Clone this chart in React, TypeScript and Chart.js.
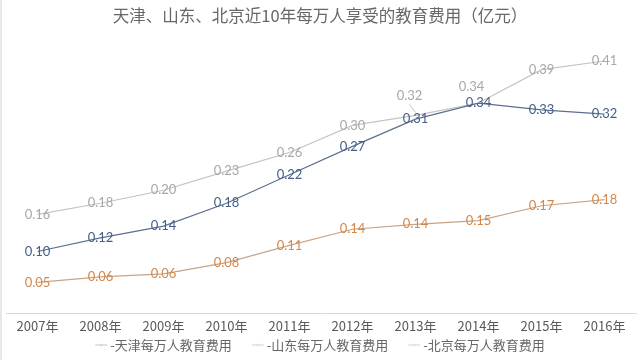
import React, { useEffect, useRef } from "react";
import { Chart, registerables } from "chart.js";

Chart.register(...registerables);

const TITLE = "天津、山东、北京近10年每万人享受的教育费用（亿元）";
const years = ["2007年", "2008年", "2009年", "2010年", "2011年", "2012年", "2013年", "2014年", "2015年", "2016年"];
const tianjin = [0.1, 0.122, 0.141, 0.178, 0.224, 0.27, 0.314, 0.34, 0.329, 0.322];
const shandong = [0.05, 0.059, 0.064, 0.082, 0.11, 0.136, 0.144, 0.15, 0.174, 0.184];
const beijing = [0.16, 0.178, 0.199, 0.23, 0.26, 0.304, 0.32, 0.34, 0.394, 0.408];
const seriesNames = ["-天津每万人教育费用", "-山东每万人教育费用", "-北京每万人教育费用"];

const FONT = "Lato, 'Noto Sans CJK SC', sans-serif";
const CJK = "'Noto Sans CJK SC', sans-serif";

const lineColors = ["#5b6f92", "#c8a487", "#c4c4c4"];
const textColors = ["#465f86", "#d4874a", "#a8a8a8"];
const legendColors = ["#d3d9e3", "#eadfd4", "#e2e2e2"];

// per-dataset label offsets (dx, dy) for crowded points
const labelOffsets: Record<number, Record<number, [number, number]>> = {
  2: { 6: [-6, -20], 7: [-7, -16] },
};

const labelPlugin = {
  id: "valueLabels",
  afterDatasetsDraw(chart: any) {
    const ctx = chart.ctx;
    ctx.save();
    ctx.font = `13px ${FONT}`;
    ctx.textAlign = "center";
    ctx.textBaseline = "middle";
    const order = [1, 2, 0];
    for (const di of order) {
      const meta = chart.getDatasetMeta(di);
      const ds = chart.data.datasets[di];
      meta.data.forEach((pt: any, i: number) => {
        const v = ds.data[i] as number;
        const off = (labelOffsets[di] && labelOffsets[di][i]) || [0, 0];
        const x = pt.x + off[0];
        const y = pt.y + off[1];
        if (off[1] !== 0 && i === 6) {
          ctx.strokeStyle = "#c4c4c4";
          ctx.lineWidth = 1;
          ctx.beginPath();
          ctx.moveTo(x, y + 9);
          ctx.lineTo(pt.x, pt.y - 3);
          ctx.stroke();
        }
        ctx.fillStyle = textColors[di];
        ctx.fillText(v.toFixed(2), x, y);
      });
    }
    ctx.restore();
  },
};

const decorPlugin = {
  id: "decor",
  afterDraw(chart: any) {
    const ctx = chart.ctx;
    ctx.save();
    // title
    ctx.font = `16.5px ${CJK}`;
    ctx.fillStyle = "#676767";
    ctx.textAlign = "center";
    ctx.textBaseline = "middle";
    ctx.fillText(TITLE, 320, 16);
    // legend
    ctx.font = `13px ${CJK}`;
    ctx.textAlign = "left";
    const symW = 12;
    const symGap = 3;
    const itemGap = 20;
    const widths = seriesNames.map((n) => symW + symGap + ctx.measureText(n).width);
    const total = widths.reduce((a, b) => a + b, 0) + itemGap * (widths.length - 1);
    let x = 320 - total / 2;
    const y = 345;
    seriesNames.forEach((n, i) => {
      ctx.strokeStyle = legendColors[i];
      ctx.lineWidth = 1.5;
      ctx.beginPath();
      ctx.moveTo(x, y);
      ctx.lineTo(x + symW, y);
      ctx.stroke();
      ctx.fillStyle = legendColors[i];
      ctx.beginPath();
      ctx.arc(x + symW / 2, y, 1.5, 0, Math.PI * 2);
      ctx.fill();
      ctx.fillStyle = "#666666";
      ctx.fillText(n, x + symW + symGap, y);
      x += widths[i] + itemGap;
    });
    ctx.restore();
  },
};

export default function App() {
  const ref = useRef<HTMLCanvasElement>(null);
  useEffect(() => {
    if (!ref.current) return;
    const data = [tianjin, shandong, beijing];
    const chart = new Chart(ref.current, {
      type: "line",
      data: {
        labels: years,
        datasets: data.map((d, i) => ({
          label: seriesNames[i],
          data: d,
          borderColor: lineColors[i],
          backgroundColor: lineColors[i],
          borderWidth: 1.2,
          pointRadius: 0,
          tension: 0,
          order: i === 0 ? 0 : i === 1 ? 2 : 1,
        })),
      },
      options: {
        animation: false,
        responsive: false,
        maintainAspectRatio: false,
        layout: { padding: { top: 35, left: 6, right: 4, bottom: 21 } },
        scales: {
          x: {
            offset: true,
            grid: { display: false, drawTicks: false },
            border: { display: true, color: "#d9d9d9" },
            ticks: { color: "#595959", font: { size: 13, family: CJK }, padding: 5, maxRotation: 0 },
          },
          y: {
            display: false,
            min: 0,
            max: 0.45,
          },
        },
        plugins: {
          title: { display: false },
          tooltip: { enabled: false },
          legend: { display: false },
        },
      },
      plugins: [labelPlugin, decorPlugin],
    });
    return () => chart.destroy();
  }, []);
  return (
    <div style={{ position: "fixed", left: 0, top: 0, width: 640, height: 360, background: "#fff" }}>
      <div style={{ position: "absolute", left: 0, top: 0, width: 2, height: 360, background: "#e8e8e8" }} />
      <canvas ref={ref} width={640} height={360} style={{ display: "block" }} />
    </div>
  );
}
